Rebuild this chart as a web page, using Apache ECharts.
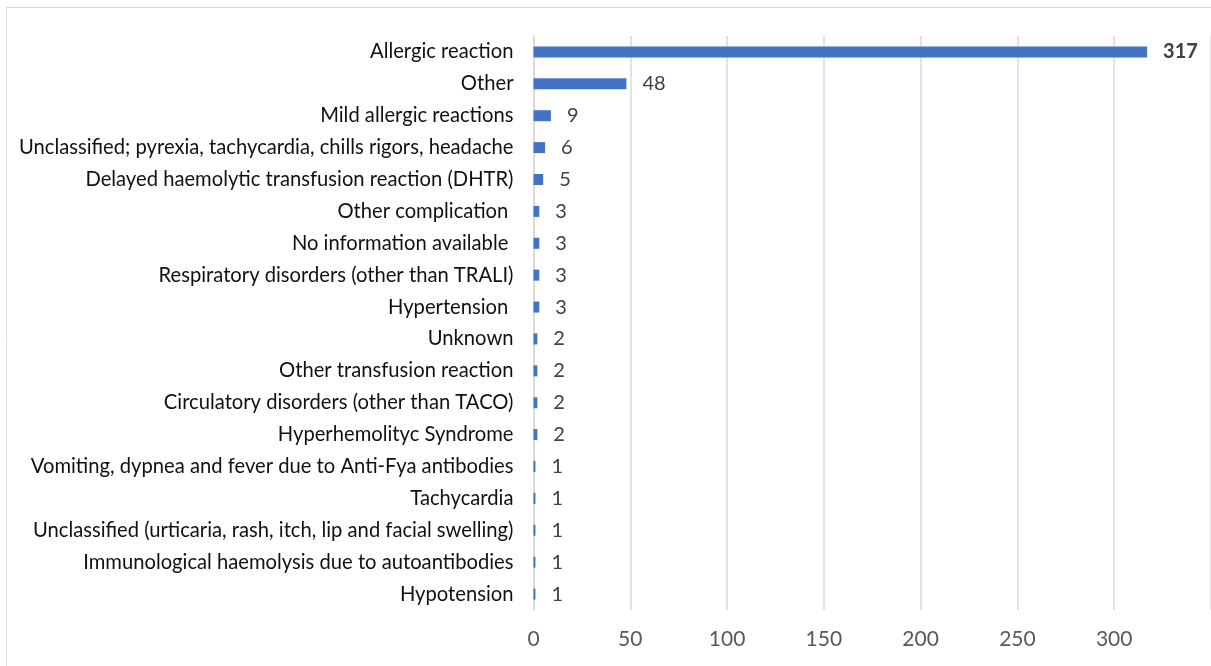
<!DOCTYPE html>
<html><head><meta charset="utf-8">
<script src="https://cdn.jsdelivr.net/npm/echarts@6/dist/echarts.min.js"></script>
<style>html,body{margin:0;padding:0;background:#fff}#c{width:1211px;height:666px}</style>
</head><body><div id="c"></div>
<script>
const categories = [
  "Allergic reaction",
  "Other",
  "Mild allergic reactions",
  "Unclassified; pyrexia, tachycardia, chills rigors, headache",
  "Delayed haemolytic transfusion reaction (DHTR)",
  "Other complication ",
  "No information available ",
  "Respiratory disorders (other than TRALI)",
  "Hypertension ",
  "Unknown",
  "Other transfusion reaction",
  "Circulatory disorders (other than TACO)",
  "Hyperhemolityc Syndrome",
  "Vomiting, dypnea and fever due to Anti-Fya antibodies",
  "Tachycardia",
  "Unclassified (urticaria, rash, itch, lip and facial swelling)",
  "Immunological haemolysis due to autoantibodies",
  "Hypotension"
];
const values = [317, 48, 9, 6, 5, 3, 3, 3, 3, 2, 2, 2, 2, 1, 1, 1, 1, 1];
const xTicks = [0, 50, 100, 150, 200, 250, 300, 350];

const chart = echarts.init(document.getElementById('c'), null, {renderer: 'canvas'});
const font = 'Lato, "Open Sans", sans-serif';
chart.setOption({
  animation: false,
  backgroundColor: '#fff',
  graphic: [{
    type: 'rect', shape: {x: 6.5, y: 7.5, width: 1220, height: 680},
    style: {fill: 'none', stroke: '#d9d9d9', lineWidth: 1}, silent: true
  }],
  grid: {left: 533.5, right: -1, top: 36, bottom: 56, containLabel: false},
  xAxis: {
    type: 'value', min: xTicks[0], max: xTicks[xTicks.length - 1], interval: 50,
    axisLine: {show: false}, axisTick: {show: false},
    splitLine: {show: true, lineStyle: {color: '#d9d9d9', width: 1.5}},
    axisLabel: {color: '#595959', fontSize: 21, fontFamily: font, margin: 19, showMaxLabel: false}
  },
  yAxis: {
    type: 'category', inverse: true, data: categories,
    axisLine: {show: true, lineStyle: {color: '#d9d9d9', width: 1.5}},
    axisTick: {show: false},
    axisLabel: {color: '#111', fontSize: 20.2, fontFamily: font, margin: 20}
  },
  series: [{
    type: 'bar', barWidth: 11,
    data: values.map((v, i) => ({
      value: v,
      label: i === 0 ? {fontWeight: 'bold'} : {}
    })),
    itemStyle: {color: '#4472C4'},
    label: {show: true, position: 'right', distance: 16, color: '#404040', fontSize: 20, fontFamily: font}
  }]
});
</script></body></html>
